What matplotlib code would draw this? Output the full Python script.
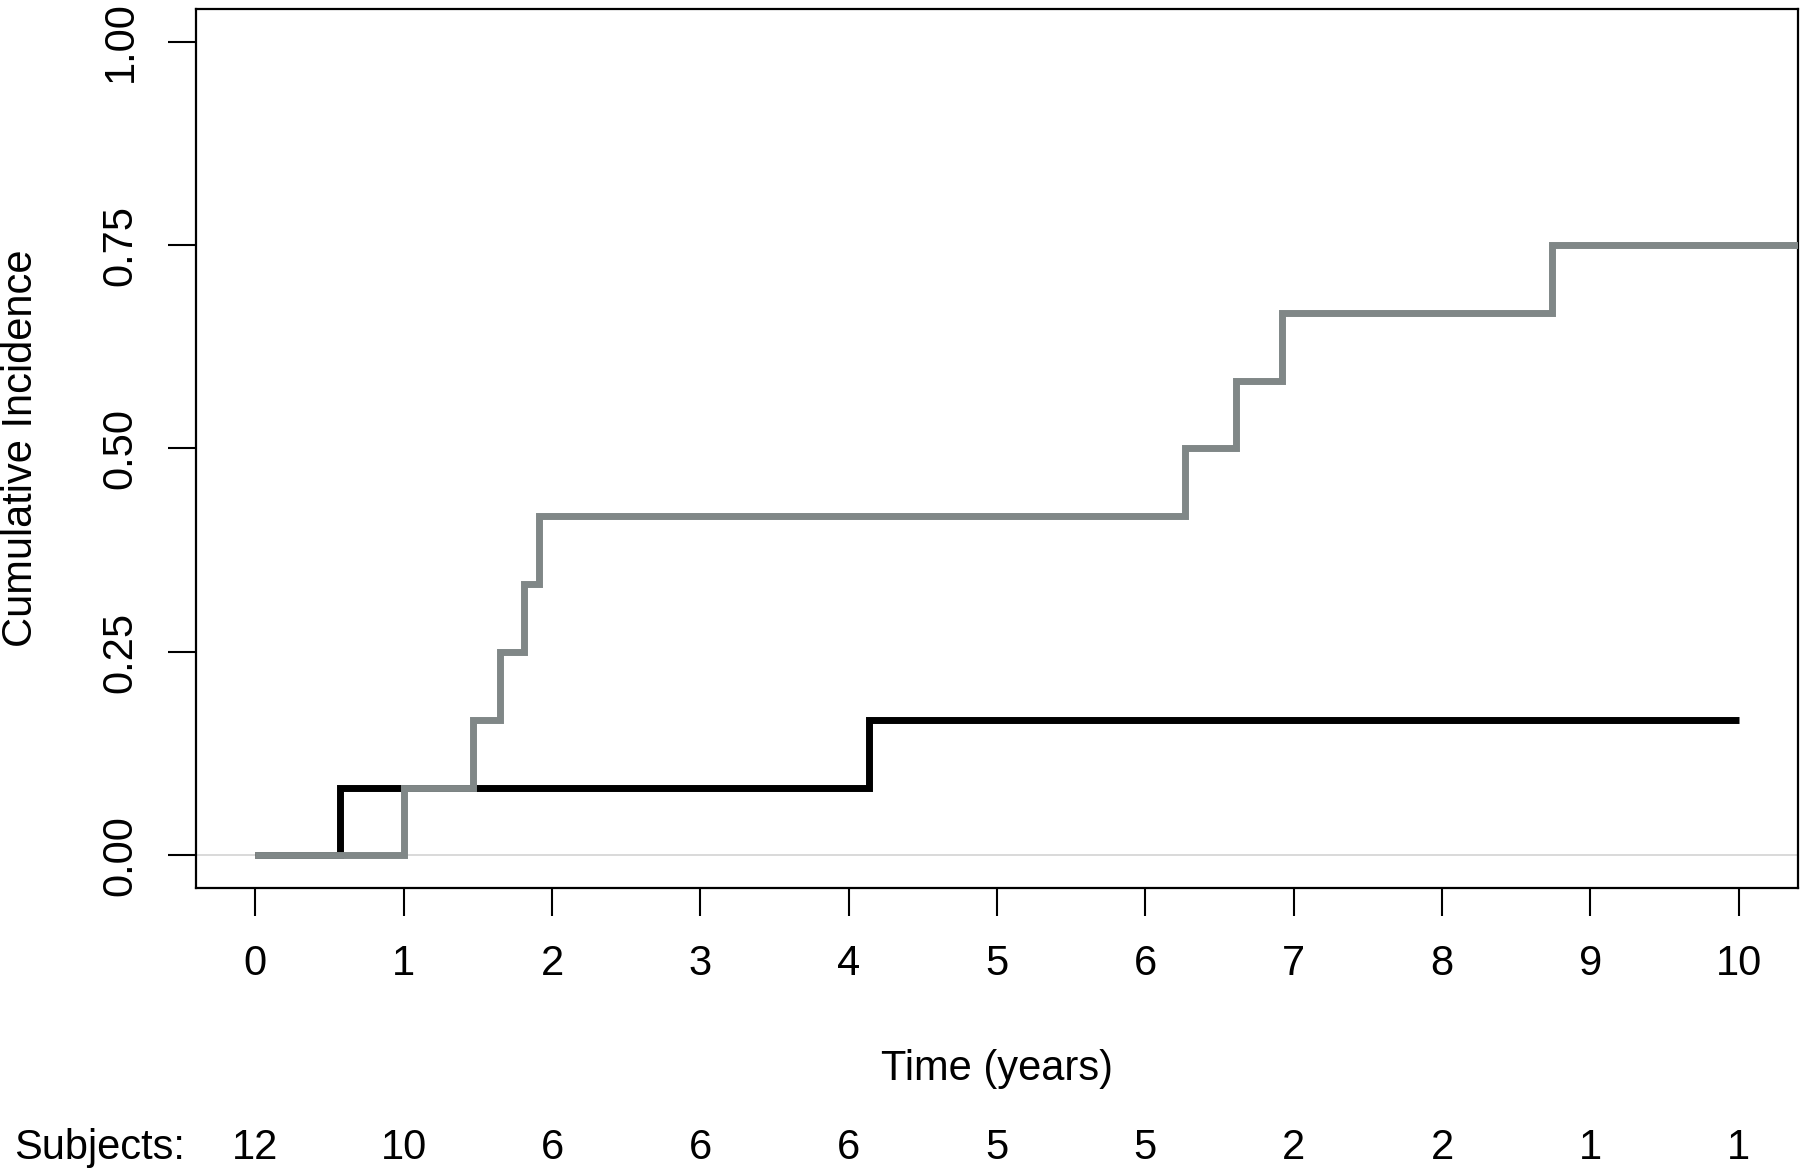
import matplotlib
matplotlib.use("Agg")
import matplotlib.pyplot as plt
import matplotlib.transforms as mtransforms

plt.rcParams['font.family'] = ['Liberation Sans', 'DejaVu Sans']

# cumulative incidence step curves (time in years, incidence)
black_times = [0.0, 0.57, 4.14, 10.0]
black_values = [0.0, 0.083, 0.167, 0.167]

gray_times = [0.0, 1.0, 1.47, 1.65, 1.81, 1.91, 6.27, 6.61, 6.92, 8.74, 10.8]
gray_values = [0.0, 0.083, 0.167, 0.25, 0.333, 0.417, 0.5, 0.583, 0.667, 0.75, 0.75]

x_ticks = [0, 1, 2, 3, 4, 5, 6, 7, 8, 9, 10]
y_ticks = [0.0, 0.25, 0.5, 0.75, 1.0]
y_tick_labels = ['0.00', '0.25', '0.50', '0.75', '1.00']
subjects = [12, 10, 6, 6, 6, 5, 5, 2, 2, 1, 1]

fig = plt.figure(figsize=(18, 11.71), dpi=100)
ax = fig.add_axes([0.1089, 0.2417, 0.890, 0.7506])

# reference line at zero
ax.axhline(0, color='#d3d3d3', lw=1.2, zorder=1)

ax.step(black_times, black_values, where='post', color='black', lw=5,
        solid_joinstyle='miter', solid_capstyle='butt', zorder=2)
ax.step(gray_times, gray_values, where='post', color='#808787', lw=5,
        solid_joinstyle='miter', solid_capstyle='butt', zorder=3)

ax.set_xlim(-0.4, 10.4)
ax.set_ylim(-0.04, 1.04)

ax.set_xticks(x_ticks)
ax.set_xticklabels([str(t) for t in x_ticks], fontsize=30)
ax.set_yticks(y_ticks)
ax.set_yticklabels(y_tick_labels, fontsize=30, rotation=90, va='center')
ax.tick_params(axis='both', length=20, width=1.5, color='black')
ax.tick_params(axis='x', pad=20)
ax.tick_params(axis='y', pad=20)

for sp in ax.spines.values():
    sp.set_linewidth(1.6)

fig.text(21 / 1800, 0.6170, 'Cumulative Incidence', rotation=90,
         ha='center', va='center', fontsize=30)

# x label and number-at-risk row
trans = mtransforms.blended_transform_factory(ax.transData, fig.transFigure)
ax.text(5, 0.0875, 'Time (years)', transform=trans, ha='center', va='center',
        fontsize=30)
fig.text(14 / 1800, 0.020, 'Subjects:', ha='left', va='center', fontsize=30)
for t, n in zip(x_ticks, subjects):
    ax.text(t, 0.020, str(n), transform=trans, ha='center', va='center',
            fontsize=30)

fig.savefig('out.png', dpi=100)
